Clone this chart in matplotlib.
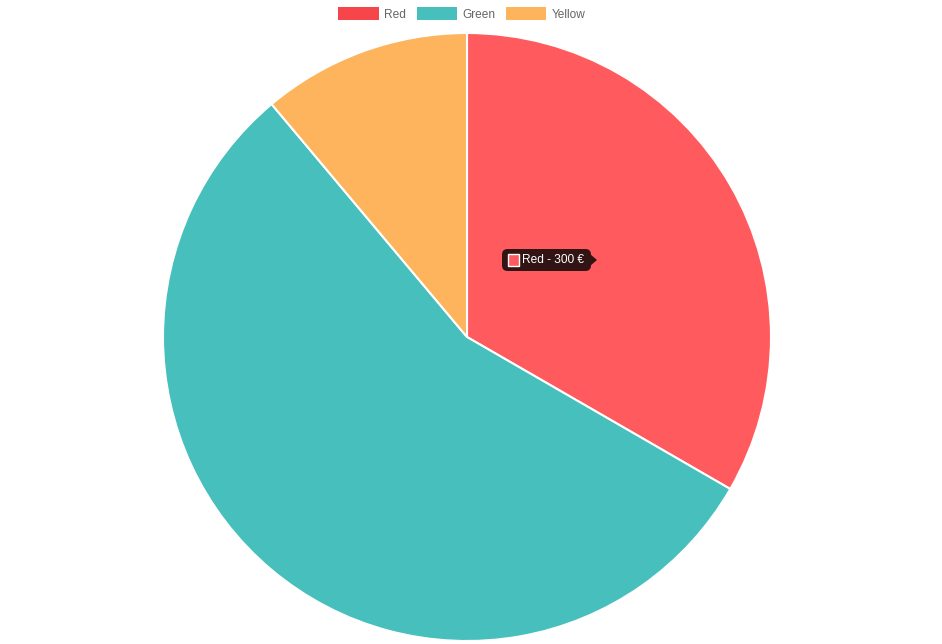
import matplotlib
matplotlib.use("Agg")
import matplotlib.pyplot as plt
from matplotlib.patches import Patch, Polygon, Rectangle, FancyBboxPatch

plt.rcParams['font.family'] = ['Liberation Sans', 'DejaVu Sans']

labels = ['Red', 'Green', 'Yellow']
values = [300, 500, 100]
pie_colors = ['#FF5A5E', '#46BFBD', '#FDB45C']
legend_colors = ['#F7464A', '#46BFBD', '#FDB45C']
currency = '€'

W, H = 942, 644
fig = plt.figure(figsize=(W / 100, H / 100), dpi=100)

# pie centred at (467, 337) px, radius 304 px
cx, cy, r = 467, 337, 304
ax = fig.add_axes([(cx - r) / W, (H - cy - r) / H, 2 * r / W, 2 * r / H])
ax.pie(values, colors=pie_colors, startangle=90, counterclock=False,
       wedgeprops=dict(edgecolor='white', linewidth=1.5))
ax.set_xlim(-1, 1)
ax.set_ylim(-1, 1)
ax.set_aspect('auto')
ax.axis('off')

# legend on top
handles = [Patch(facecolor=c, edgecolor='none') for c in legend_colors]
fig.legend(handles, labels, loc='center', bbox_to_anchor=(462 / W, 1 - 14 / H),
           ncol=3, frameon=False, fontsize=8.6, labelcolor='#666666',
           handlelength=3.35, handleheight=1.3, handletextpad=0.5,
           columnspacing=0.85, borderaxespad=0, borderpad=0)

# tooltip for the hovered slice (figure pixel helpers)
def fx(px):
    return px / W


def fy(py):
    return 1 - py / H


tip_bg = '#331414'
x0, x1, y0, y1 = 502, 591, 249, 271
mid = (y0 + y1) / 2
fig.patches.append(FancyBboxPatch((fx(x0), fy(y1)), fx(x1 - x0), (y1 - y0) / H,
                                  boxstyle='round,pad=0,rounding_size=0.006',
                                  mutation_aspect=W / H,
                                  transform=fig.transFigure, fc=tip_bg,
                                  ec='none', zorder=4))
fig.patches.append(Polygon([(fx(x1 - 1), fy(mid - 6)), (fx(x1 + 6), fy(mid)),
                            (fx(x1 - 1), fy(mid + 6))],
                           transform=fig.transFigure, fc=tip_bg, ec='none',
                           zorder=4))
fig.patches.append(Rectangle((fx(x0 + 6), fy(mid + 6)), fx(11), 12 / H,
                             transform=fig.transFigure, fc=pie_colors[0],
                             ec='white', lw=1, zorder=6))
fig.text(fx(x0 + 20), fy(mid), f"{labels[0]} - {values[0]} {currency}",
         color='white', fontsize=8.6, va='center', ha='left', zorder=7)

fig.savefig('out.png', dpi=100)
